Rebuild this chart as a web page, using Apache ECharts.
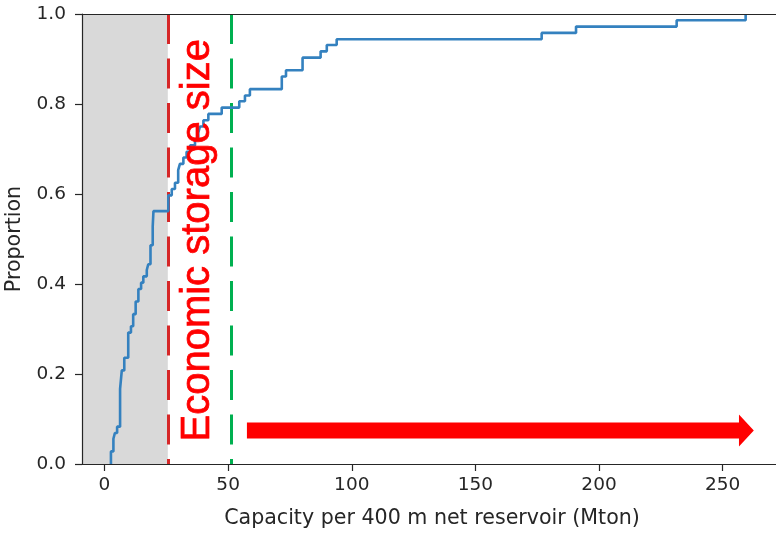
<!DOCTYPE html>
<html>
<head>
<meta charset="utf-8">
<script src="https://cdn.jsdelivr.net/npm/echarts@6/dist/echarts.min.js"></script>
<style>
  html, body { margin: 0; padding: 0; background: #ffffff; }
  #chart { width: 776px; height: 533px; }
</style>
</head>
<body>
<div id="chart"></div>
<script>
// Cumulative distribution of storage capacity: jump positions (Mton) and level after each jump
const capacity = [
  2.6, 3.6, 4.2, 5.1, 6.3, 7.0, 8.0, 9.6, 10.7, 11.6, 12.6, 13.7, 14.8, 15.7,
  17.1, 17.7, 18.6, 19.5, 19.8, 25.8, 27.2, 28.5, 29.8, 30.5, 31.9, 33.2, 34.6,
  36.6, 37.9, 38.6, 40.0, 42.0, 47.4, 54.5, 56.8, 58.8, 71.7, 73.4, 80.1, 87.4,
  89.9, 93.9, 176.8, 190.7, 231.4, 259.3
];
const proportion = [
  0.028, 0.056, 0.069, 0.083, 0.167, 0.208, 0.236, 0.292, 0.306, 0.333, 0.361,
  0.389, 0.403, 0.417, 0.431, 0.444, 0.486, 0.528, 0.562, 0.597, 0.611, 0.625,
  0.653, 0.667, 0.681, 0.694, 0.708, 0.722, 0.736, 0.750, 0.764, 0.778, 0.792,
  0.806, 0.819, 0.833, 0.861, 0.875, 0.903, 0.917, 0.931, 0.944, 0.958, 0.972,
  0.986, 1.0
];
const xTickValues = [0, 50, 100, 150, 200, 250];
const yTickValues = [0, 0.2, 0.4, 0.6, 0.8, 1.0];

// Reference thresholds (Mton)
const economicSize = 25.6;
const secondThreshold = 51.3;

// Annotation anchors in data units
const arrowStart = 57.6, arrowHeadBase = 256.6, arrowTip = 262.6, arrowLevel = 0.0744;
const labelText = 'Economic storage size';
const labelAnchor = [37.6, 0.05];

// The plot area runs a little past the right edge of the canvas
const xMin = -9.1, xMax = 274.0;

const curve = [[capacity[0], 0]].concat(capacity.map((c, i) => [c, proportion[i]]));

const chart = echarts.init(document.getElementById('chart'), null, { renderer: 'canvas' });

const ink = '#262626';
const tickFont = { fontFamily: 'DejaVu Sans', fontSize: 18.5, color: ink };
const nameFont = { fontFamily: 'DejaVu Sans', fontSize: 20.6, color: ink };
const spine = { color: ink, width: 1.2 };

chart.setOption({
  animation: false,
  backgroundColor: '#ffffff',
  grid: {
    left: 82, top: 14, width: 700, height: 450,
    outerBoundsMode: 'none', containLabel: false, show: false
  },
  xAxis: [
    {
      type: 'value', min: xMin, max: xMax, z: 10, position: 'bottom',
      name: 'Capacity per 400 m net reservoir (Mton)',
      nameLocation: 'middle', nameGap: 44,
      nameTextStyle: nameFont,
      axisLine: { show: true, onZero: false, lineStyle: spine },
      axisTick: { show: true, length: 7, customValues: xTickValues, lineStyle: spine },
      axisLabel: Object.assign({ margin: 12, customValues: xTickValues, formatter: v => String(v) }, tickFont),
      splitLine: { show: false }
    },
    {
      // top spine only
      type: 'value', min: xMin, max: xMax, z: 10, position: 'top',
      axisLine: { show: true, onZero: false, lineStyle: spine },
      axisTick: { show: false }, axisLabel: { show: false }, splitLine: { show: false }
    }
  ],
  yAxis: {
    type: 'value', min: 0, max: 1, interval: 0.2, z: 10,
    name: 'Proportion',
    nameLocation: 'middle', nameGap: 57,
    nameTextStyle: nameFont,
    axisLine: { show: true, onZero: false, lineStyle: spine },
    axisTick: { show: true, length: 7, lineStyle: spine },
    axisLabel: Object.assign({ margin: 16, formatter: v => v.toFixed(1) }, tickFont),
    splitLine: { show: false }
  },
  series: [
    {
      type: 'line',
      data: curve,
      step: 'end',
      showSymbol: false,
      symbol: 'none',
      clip: false,
      z: 5,
      lineStyle: { color: '#3481bf', width: 2.6 },
      markArea: {
        silent: true,
        itemStyle: { color: '#d9d9d9' },
        data: [[{ xAxis: xMin }, { xAxis: economicSize }]]
      },
      markLine: {
        silent: true,
        symbol: ['none', 'none'],
        label: { show: false },
        data: [
          [
            { coord: [economicSize, 1], lineStyle: { color: '#d62728', width: 3, type: [30, 14.5] } },
            { coord: [economicSize, 0] }
          ],
          [
            { coord: [secondThreshold, 1], lineStyle: { color: '#00b050', width: 3, type: [30, 14.5] } },
            { coord: [secondThreshold, 0] }
          ]
        ]
      }
    }
  ]
});

// Annotation arrow and rotated label, placed through the chart's own coordinate system
function px(pt) { return chart.convertToPixel({ xAxisIndex: 0, yAxisIndex: 0 }, pt); }
const s = px([arrowStart, arrowLevel]);
const hb = px([arrowHeadBase, arrowLevel]);
const tip = px([arrowTip, arrowLevel]);
const shaftHalf = 8, headHalf = 16;
const la = px(labelAnchor);

chart.setOption({
  graphic: [
    {
      type: 'polygon', z: 100,
      shape: {
        points: [
          [s[0], s[1] - shaftHalf], [hb[0], s[1] - shaftHalf], [hb[0], s[1] - headHalf],
          [tip[0], s[1]], [hb[0], s[1] + headHalf], [hb[0], s[1] + shaftHalf],
          [s[0], s[1] + shaftHalf]
        ]
      },
      style: { fill: '#ff0000' }
    },
    {
      type: 'text', z: 100,
      x: la[0], y: la[1], rotation: Math.PI / 2,
      style: {
        text: labelText,
        fill: '#ff0000',
        stroke: '#ff0000', lineWidth: 0.7,
        font: '40px "Liberation Sans", Arial, sans-serif',
        textAlign: 'left', textVerticalAlign: 'middle'
      }
    }
  ]
});
</script>
</body>
</html>
